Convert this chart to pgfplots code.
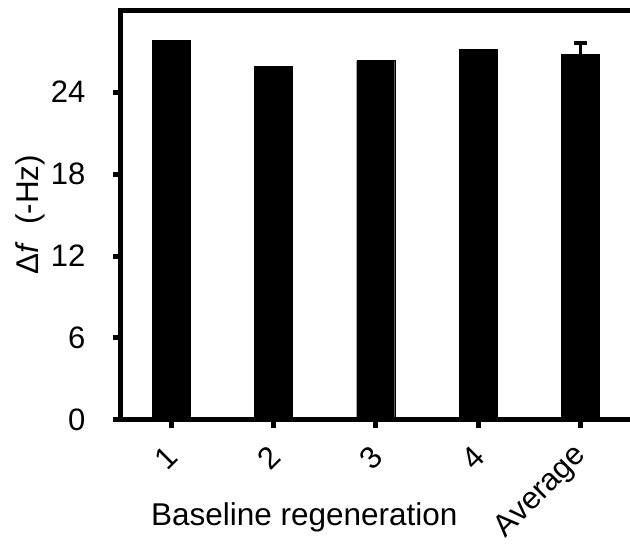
\documentclass[border=0pt]{standalone}
\usepackage{fontspec}
\setmainfont{Liberation Sans}
\usepackage{pgfplots}
\pgfplotsset{compat=1.18}
\begin{document}
\begin{tikzpicture}
\useasboundingbox (-121pt,-129pt) rectangle (509pt,420pt);
\begin{axis}[
  scale only axis, width=520.7pt, height=410pt,
  xmin=-0.49, xmax=4.6, ymin=0, ymax=30,
  axis line style={line width=5pt, black},
  ybar, bar width=38pt, bar shift=0pt,
  xtick={0,1,2,3,4}, xticklabels={1,2,3,4,Average},
  ytick={0,6,12,18,24},
  xtick pos=bottom, ytick pos=left,
  tick align=outside, major tick length=8pt,
  major tick style={line width=5pt, black},
  /pgf/number format/assume math mode=true,
  ticklabel style={font=\fontsize{31}{37}\selectfont},
  yticklabel style={xshift=-24pt},
  xticklabel style={anchor=east, xshift=4pt, yshift=-21pt, rotate=45},
  xlabel={Baseline regeneration},
  ylabel={Δ\textit{f}\ \ (-Hz)},
  label style={font=\fontsize{31.5}{37}\selectfont},
  xlabel style={at={(axis description cs:0.352,-0.237)}, anchor=center},
  ylabel style={at={(axis description cs:-0.175,0.5)}, anchor=center},
]
\addplot[fill=black, draw=black] coordinates {(0,27.8) (1,25.9) (2,26.3) (3,27.1)};
\addplot[fill=black, draw=black,
  error bars/.cd, y dir=plus, y explicit,
  error bar style={line width=3.5pt, black},
  error mark options={rotate=90, mark size=6.5pt, line width=3.5pt, black}]
  coordinates {(4,26.8) +- (0,0.8)};
\end{axis}
\end{tikzpicture}
\end{document}
